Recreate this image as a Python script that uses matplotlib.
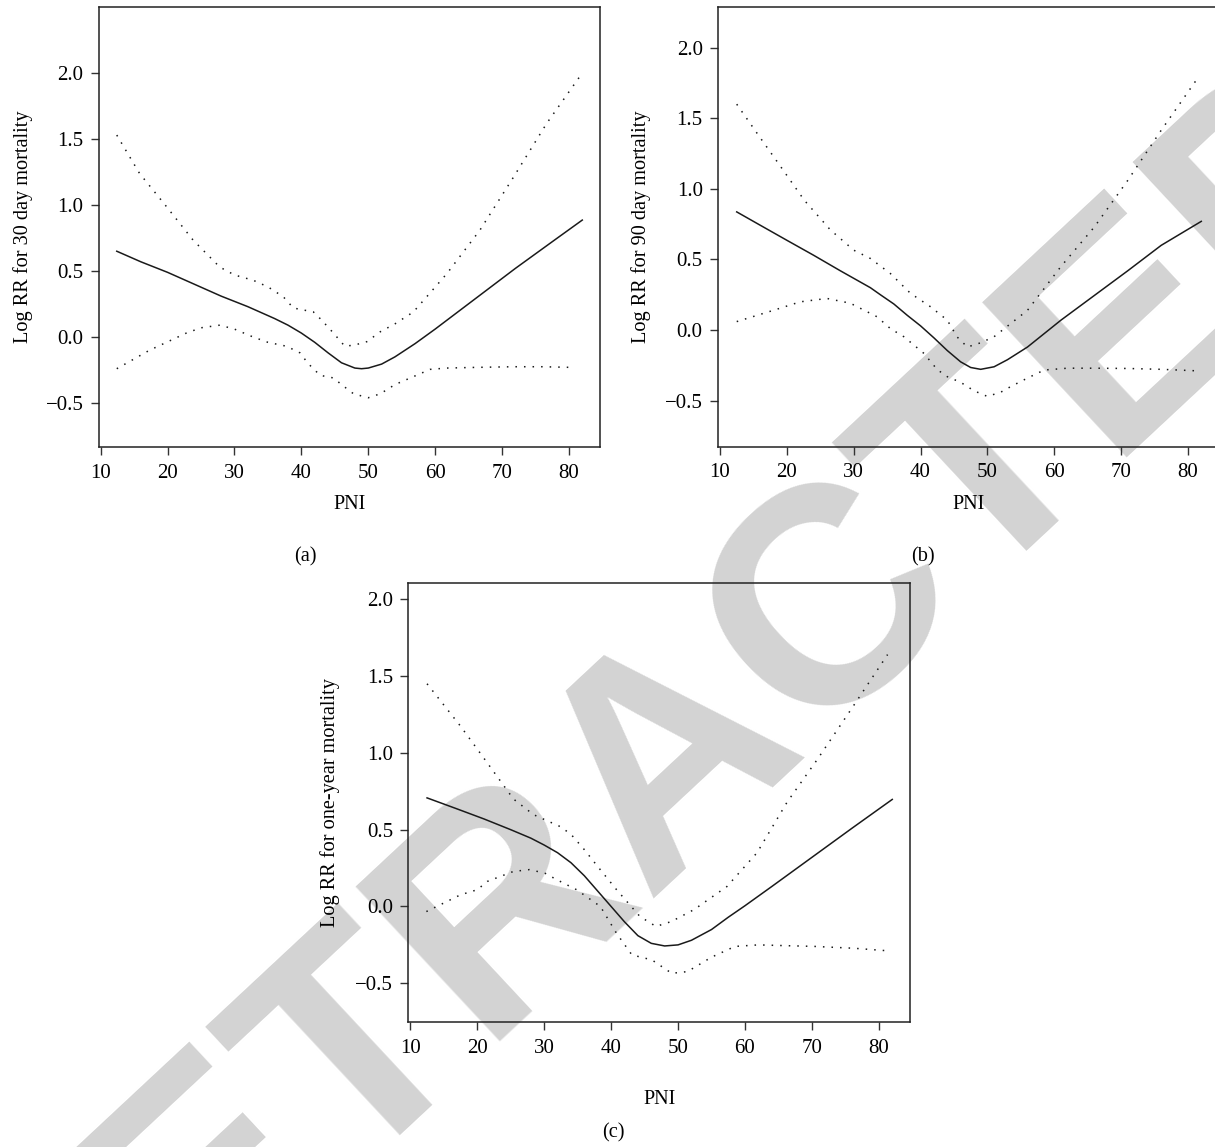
"""
plot.py
───────
Three-panel spline plot: Log RR for 30 day / 90 day / one-year mortality
against PNI, fitted curve (solid) with 95% bounds (dotted), plus the
grey RETRACTED watermark that sits behind everything.

Run: python3 plot.py
"""

import matplotlib
matplotlib.use("Agg")
import matplotlib.pyplot as plt

# ─── Panel (a): 30 day mortality ──────────────────────────────────────────────
pni_a_fit = [12.4, 16, 20, 24, 28, 32, 36, 38, 40, 42, 44, 46, 48, 49, 50, 52, 54, 57, 60, 66, 72, 78, 82]
rr_a_fit = [0.65, 0.57, 0.49, 0.40, 0.31, 0.23, 0.14, 0.09, 0.03, -0.04, -0.12, -0.195, -0.235,
            -0.24, -0.235, -0.205, -0.15, -0.05, 0.06, 0.29, 0.52, 0.74, 0.886]
pni_a_up = [12.4, 15.8, 19.8, 23.8, 27.8, 30, 32.8, 35, 37.3, 38.8, 41.8, 43, 44.8, 46.5, 48,
            49.8, 51.8, 54, 56.75, 59, 61.75, 66.7, 71.7, 76.7, 82]
rr_a_up = [1.53, 1.24, 0.99, 0.735, 0.53, 0.47, 0.43, 0.38, 0.305, 0.22, 0.19, 0.13, 0.03, -0.07,
           -0.06, -0.035, 0.04, 0.10, 0.19, 0.32, 0.48, 0.81, 1.21, 1.62, 2.0]
pni_a_lo = [12.4, 17.3, 22.8, 25, 27.8, 30, 32.8, 35, 37.8, 39.8, 41, 42.8, 44.8, 46, 47.8, 50,
            51.8, 54, 56.75, 59.25, 61.75, 66, 71.7, 76, 80.5]
rr_a_lo = [-0.24, -0.10, 0.03, 0.07, 0.09, 0.06, 0.0, -0.04, -0.07, -0.12, -0.20, -0.29, -0.31,
           -0.36, -0.43, -0.46, -0.43, -0.36, -0.30, -0.245, -0.235, -0.23, -0.225, -0.225, -0.23]

# ─── Panel (b): 90 day mortality ──────────────────────────────────────────────
pni_b_fit = [12.5, 16, 20, 24, 28, 32.5, 34, 36, 38, 40, 42, 44, 46, 47.5, 49, 51, 53, 56,
             61, 66, 71, 76, 82]
rr_b_fit = [0.837, 0.743, 0.636, 0.53, 0.42, 0.30, 0.25, 0.185, 0.105, 0.03, -0.055, -0.145,
            -0.225, -0.265, -0.278, -0.26, -0.21, -0.12, 0.07, 0.245, 0.42, 0.60, 0.77]
pni_b_up = [12.5, 15.6, 19.1, 22.6, 26.5, 30, 32.5, 35.5, 38.5, 41.5, 44, 45.5, 47, 49, 51, 56,
            61, 66, 71, 76, 81.25]
rr_b_up = [1.60, 1.39, 1.156, 0.92, 0.71, 0.566, 0.507, 0.40, 0.26, 0.165, 0.07, -0.05, -0.12,
           -0.09, -0.047, 0.14, 0.45, 0.73, 1.06, 1.415, 1.77]
pni_b_lo = [12.5, 18, 22, 26, 29.5, 33.5, 35.5, 37.5, 40.5, 42.5, 44, 46, 48, 50, 52, 53.5, 56,
            58.5, 62, 66, 71, 76, 81]
rr_b_lo = [0.06, 0.14, 0.20, 0.224, 0.19, 0.094, 0.01, -0.047, -0.165, -0.28, -0.33, -0.37, -0.43,
           -0.47, -0.44, -0.40, -0.34, -0.283, -0.27, -0.27, -0.272, -0.278, -0.288]

# ─── Panel (c): one-year mortality ────────────────────────────────────────────
pni_c_fit = [12.5, 17, 21, 25, 28, 30, 32, 34, 36, 38, 40, 42, 44, 46, 48, 50, 52, 55, 57.5,
             60, 64, 70, 76, 82]
rr_c_fit = [0.707, 0.635, 0.57, 0.50, 0.445, 0.40, 0.35, 0.285, 0.20, 0.10, 0.0, -0.10, -0.19,
            -0.24, -0.257, -0.25, -0.22, -0.15, -0.07, 0.005, 0.13, 0.32, 0.51, 0.697]
pni_c_up = [12.5, 17.5, 21.5, 25.4, 28.4, 32.4, 34, 36, 38, 40.8, 44.3, 46.7, 49, 52.4, 57.3,
            61.8, 66.3, 70.8, 75.8, 81.3]
rr_c_up = [1.45, 1.174, 0.935, 0.70, 0.598, 0.52, 0.47, 0.37, 0.26, 0.11, -0.065, -0.13, -0.098,
           -0.02, 0.13, 0.35, 0.68, 0.957, 1.28, 1.64]
pni_c_lo = [12.4, 17.5, 20, 21.5, 25.4, 27.8, 30.1, 31.9, 34.85, 38.4, 40.8, 43.1, 46.1, 49.05,
            51.4, 55, 58.5, 62, 66, 70.4, 76.3, 81.8]
rr_c_lo = [-0.033, 0.076, 0.109, 0.163, 0.228, 0.24, 0.217, 0.174, 0.109, 0.0, -0.174, -0.315,
           -0.348, -0.435, -0.424, -0.33, -0.26, -0.25, -0.255, -0.26, -0.272, -0.29]

# ─── Axis text ────────────────────────────────────────────────────────────────
x_ticks = [10, 20, 30, 40, 50, 60, 70, 80]
y_ticks = [-0.5, 0.0, 0.5, 1.0, 1.5, 2.0]
y_tick_labels = ["\u22120.5", "0.0", "0.5", "1.0", "1.5", "2.0"]
x_title = "PNI"
y_titles = ["Log RR for 30 day mortality", "Log RR for 90 day mortality",
            "Log RR for one-year mortality"]
panel_tags = ["(a)", "(b)", "(c)"]
watermark = "RETRACTED"

# ─── Style ────────────────────────────────────────────────────────────────────
W, H = 1215, 1147
plt.rcParams["font.family"] = ["Liberation Serif", "DejaVu Serif"]
plt.rcParams["font.size"] = 14.6
INK = "#1a1a1a"
DOT = (0, (1, 4.6))


def px_box(left, top, right, bottom):
    # pixel box of the reference -> figure fraction rect
    return [left / W, 1 - bottom / H, (right - left) / W, (bottom - top) / H]


def draw_panel(ax, fit, up, lo, ylim, ytitle, ylab_x, xlabelpad):
    ax.set_facecolor("none")
    ax.plot(*fit, color=INK, lw=1.1, solid_joinstyle="round")
    ax.plot(*up, color=INK, lw=1.1, linestyle=DOT)
    ax.plot(*lo, color=INK, lw=1.1, linestyle=DOT)
    ax.set_xlim(9.7, 84.65)
    ax.set_ylim(*ylim)
    ax.set_xticks(x_ticks)
    ax.set_yticks(y_ticks)
    ax.set_yticklabels(y_tick_labels)
    ax.tick_params(direction="out", length=6, width=1.0, color="#333333",
                   labelsize=15, pad=5)
    ax.tick_params(axis="x", pad=6)
    for s in ax.spines.values():
        s.set_linewidth(1.1)
        s.set_color("#222222")
    ax.set_xlabel(x_title, fontsize=14.6, labelpad=xlabelpad)
    ax.set_ylabel(ytitle, fontsize=14.6)
    ax.yaxis.set_label_coords(ylab_x, 0.5)


fig = plt.figure(figsize=(W / 100, H / 100), dpi=100)

# ─── Watermark, behind every panel ────────────────────────────────────────────
bg = fig.add_axes([0, 0, 1, 1], zorder=-1)
bg.set_axis_off()
bg.text(670 / W, 1 - 755 / H, watermark, transform=bg.transAxes,
        family="Liberation Sans", fontweight="bold", fontsize=222,
        color="#d3d3d3", rotation=43, rotation_mode="anchor",
        ha="center", va="center")

ax_a = fig.add_axes(px_box(98.7, 7, 600, 447))
ax_b = fig.add_axes(px_box(718, 7.3, 1219, 446.7))
ax_c = fig.add_axes(px_box(408.3, 583.3, 910, 1022.3))

draw_panel(ax_a, (pni_a_fit, rr_a_fit), (pni_a_up, rr_a_up), (pni_a_lo, rr_a_lo),
           (-0.833, 2.5), y_titles[0], -0.131, 9)
draw_panel(ax_b, (pni_b_fit, rr_b_fit), (pni_b_up, rr_b_up), (pni_b_lo, rr_b_lo),
           (-0.826, 2.286), y_titles[1], -0.134, 9)
draw_panel(ax_c, (pni_c_fit, rr_c_fit), (pni_c_up, rr_c_up), (pni_c_lo, rr_c_lo),
           (-0.754, 2.104), y_titles[2], -0.136, 23)

# ─── Panel tags ───────────────────────────────────────────────────────────────
for tag, (tx, ty) in zip(panel_tags, [(305, 556.7), (923, 556.7), (613, 1133)]):
    fig.text(tx / W, 1 - ty / H, tag, fontsize=14.6, ha="center", va="center")

fig.savefig("out.png", dpi=100)
